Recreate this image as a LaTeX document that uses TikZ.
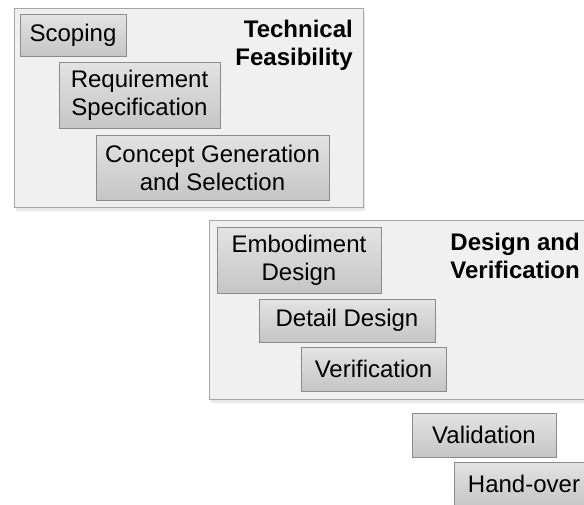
\documentclass[tikz,border=0pt]{standalone}
\usepackage{fontspec}
\setmainfont{Liberation Sans}
\usetikzlibrary{positioning, shadows}

\begin{document}
\begin{tikzpicture}[x=1pt, y=-1pt,
    phasebox/.style={draw=gray!85!black!60, line width=1.2pt, fill=gray!12, anchor=north west,
        inner sep=0pt, drop shadow={opacity=0.18, shadow xshift=1.5pt, shadow yshift=-3pt}},
    stagebox/.style={draw=gray!70!black!70, line width=1pt, top color=gray!22, bottom color=gray!45,
        align=center, inner sep=0pt, font=\fontsize{24}{28}\selectfont},
    phaselabel/.style={anchor=north east, align=right, inner sep=0pt,
        font=\fontsize{24}{28}\selectfont\bfseries}]
    \useasboundingbox (0,0) rectangle (584,504);
    \clip (0,0) rectangle (584,504);

    % first phase
    \node[phasebox, minimum width=349pt, minimum height=199pt] (feas_box) at (14,8) {};
    \node[phaselabel] (feas_label) at (353,20) {Technical\\Feasibility};
    \node[stagebox, minimum width=106pt, minimum height=42pt] (scoping) at (73,35) {Scoping};
    \node[stagebox, minimum width=161pt, minimum height=66pt] (req_spec) at (139.5,95) {Requirement\\Specification};
    \node[stagebox, minimum width=233pt, minimum height=65pt] (concept) at (212.5,167.5) {Concept Generation\\and Selection};

    % second phase
    \node[phasebox, minimum width=390pt, minimum height=179pt] (design_box) at (209,220) {};
    \node[phaselabel] (design_label) at (580,233) {Design and\\Verification};
    \node[stagebox, minimum width=164pt, minimum height=66pt] (embodiment) at (299,260) {Embodiment\\Design};
    \node[stagebox, minimum width=176pt, minimum height=43pt] (detail) at (347,320.5) {Detail Design};
    \node[stagebox, minimum width=145pt, minimum height=44pt] (verification) at (373.5,369) {Verification};

    % remaining stages
    \node[stagebox, minimum width=144pt, minimum height=44pt] (validation) at (484,435) {Validation};
    \node[stagebox, minimum width=140pt, minimum height=44pt] (handover) at (524,484) {Hand-over};
\end{tikzpicture}
\end{document}
